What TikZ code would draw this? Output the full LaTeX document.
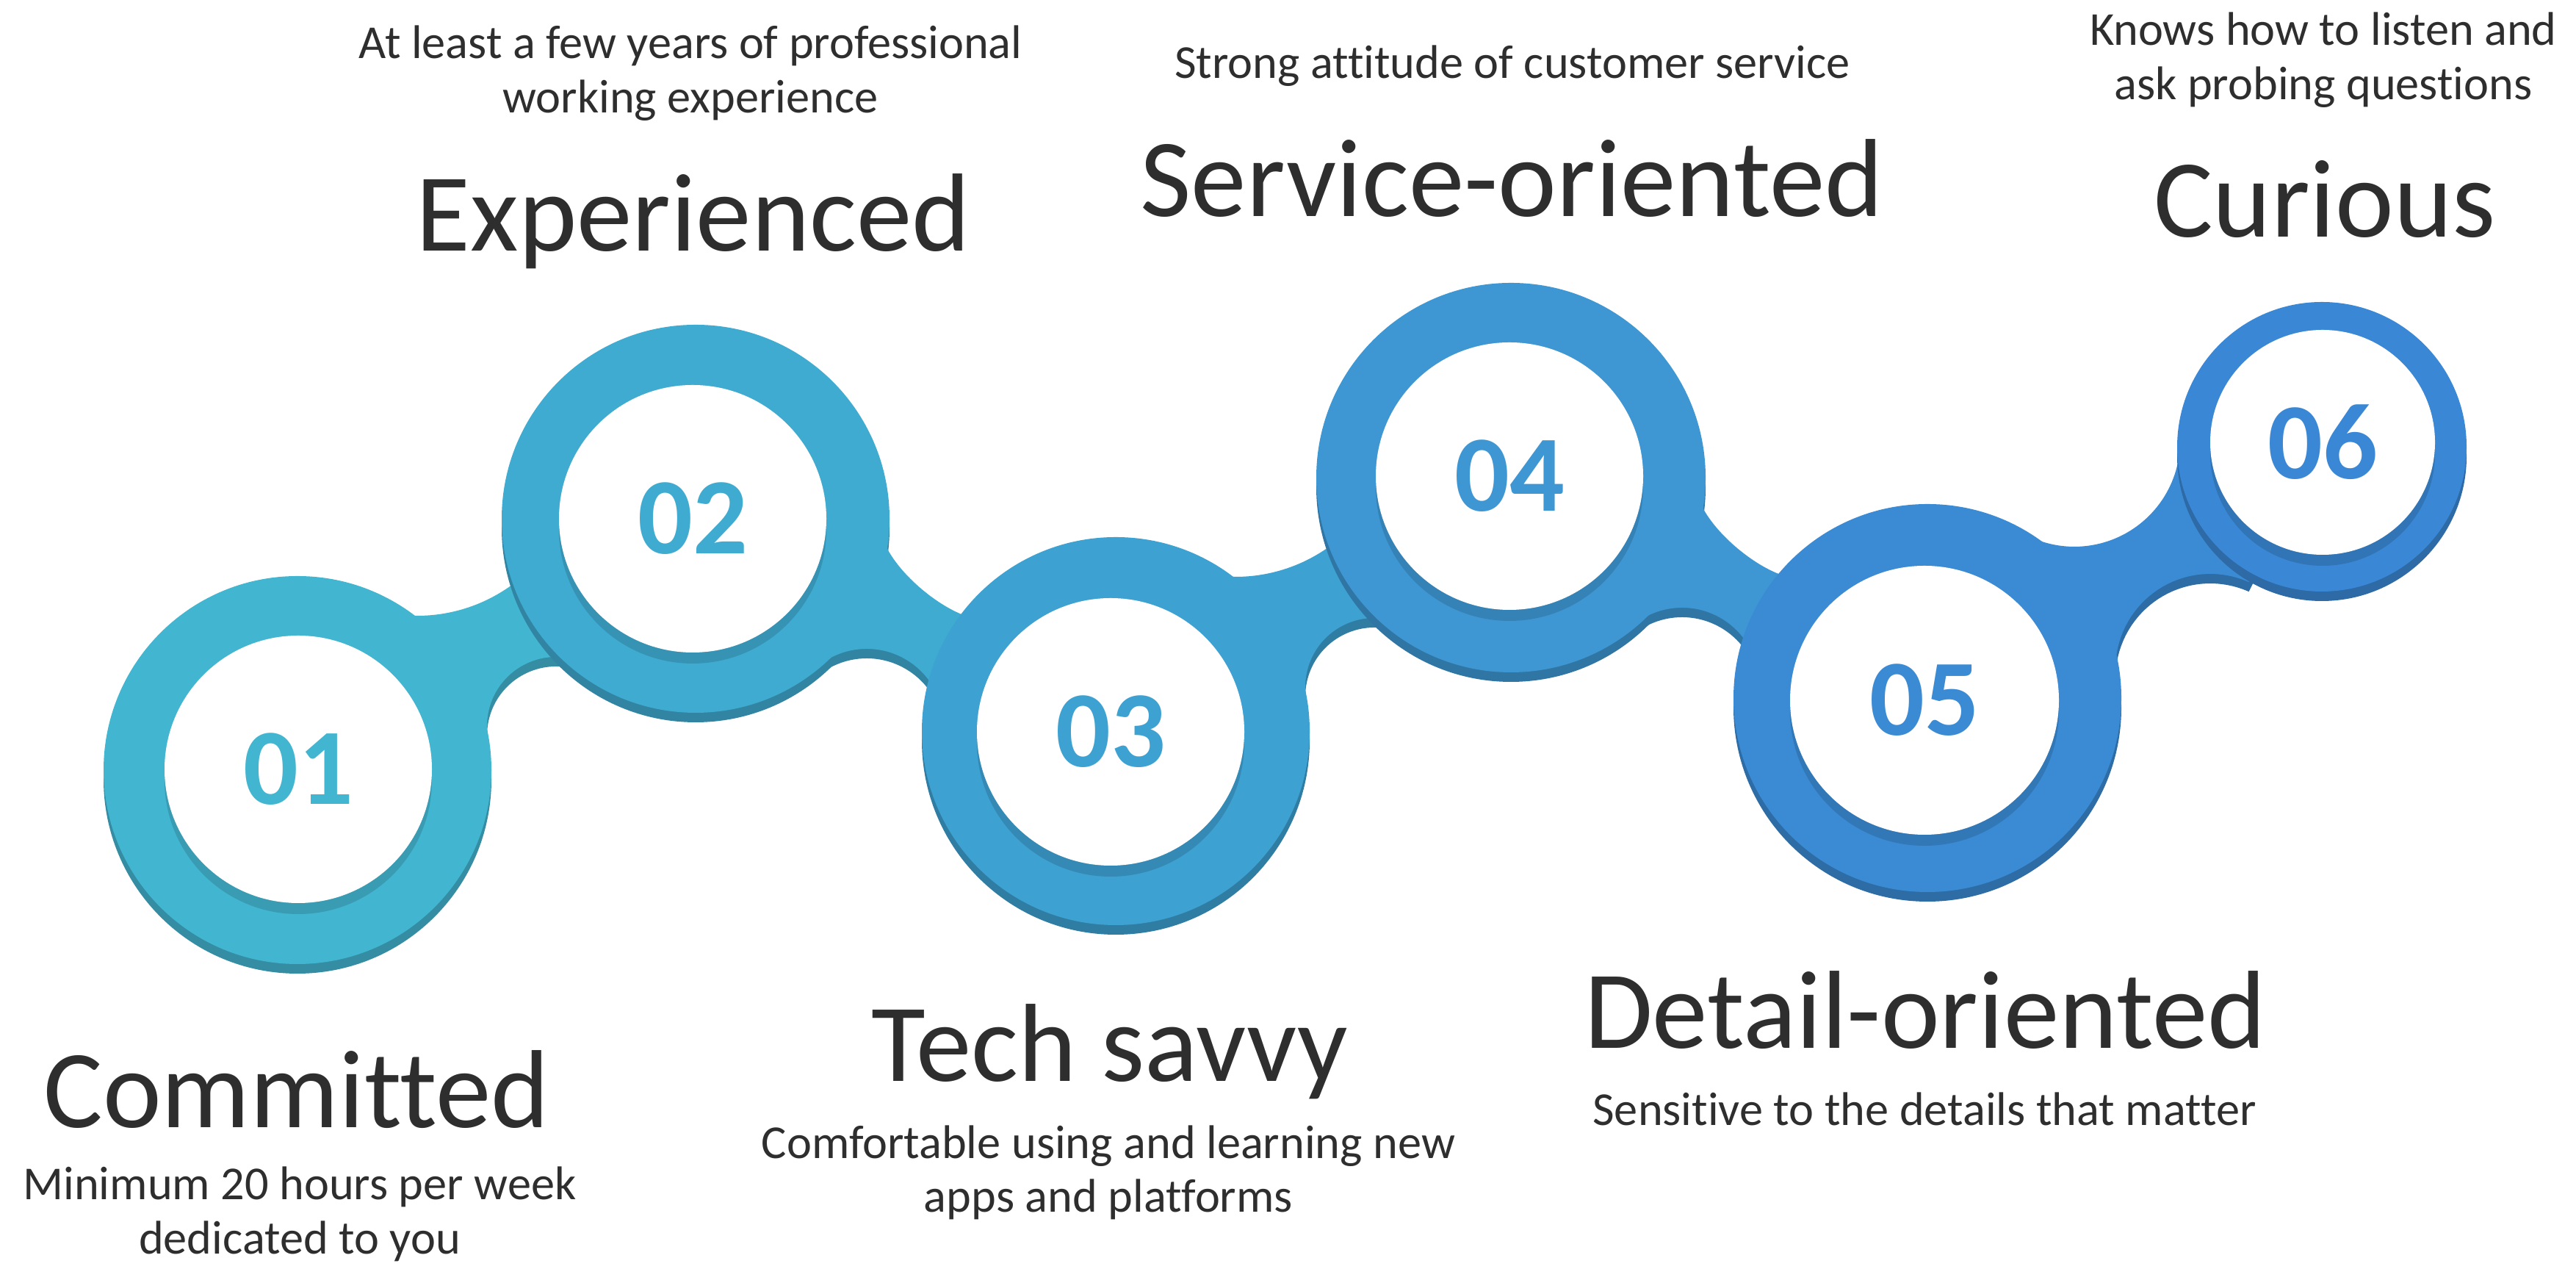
\documentclass[tikz,border=0pt]{standalone}
\usepackage{fontspec}
\setmainfont{Carlito}[Ligatures=NoCommon]
\usetikzlibrary{calc}

\definecolor{ink}{HTML}{2E2E2E}
\definecolor{ringA}{HTML}{42B5D0}
\definecolor{ringB}{HTML}{3FABD1}
\definecolor{ringC}{HTML}{3DA1D2}
\definecolor{ringD}{HTML}{3E97D3}
\definecolor{ringE}{HTML}{3A8AD4}
\definecolor{ringF}{HTML}{3A88D5}

\tikzset{
  title/.style={anchor=base, inner sep=0pt, text=ink, font=\fontsize{43}{50}\selectfont},
  caption/.style={anchor=base, inner sep=0pt, text=ink, font=\fontsize{18.3}{21}\selectfont},
  digit/.style={inner sep=0pt, font=\bfseries\fontsize{42}{42}\selectfont},
}

% dark copy of a ring, shifted down
\newcommand\ringshadow[3]{\fill[#3!78!black] ($(#1)+(0,-0.13)$) circle (#2);}
% ring face: outer disc, inner drop shadow, white centre
\newcommand\ringface[5]{%
  \fill[#5] (#1) circle (#2);
  \fill[#5!86!black] ($(#3)+(0,-0.15)$) circle (#4);
  \fill[white] (#3) circle (#4);
}
% neck rising to the upper right
\newcommand\upneck[3]{%
  \fill[#3!78!black, shift={($(#1)+(0,-0.13)$)}]
    (0,0) -- (1.439,2.108) arc[start angle=-95, end angle=-50, radius=2.19]
    -- (#2) -- (3.8415,1.4833) arc[start angle=70, end angle=188, radius=0.94] -- cycle;
  \fill[#3, shift={(#1)}]
    (0,0) -- (1.439,2.108) arc[start angle=-95, end angle=-50, radius=2.19]
    -- (#2) -- (3.8415,1.4833) arc[start angle=70, end angle=188, radius=0.94] -- cycle;
}
% neck falling to the lower right
\newcommand\downneck[3]{%
  \fill[#3!78!black, shift={($(#1)+(0,-0.13)$)}]
    (0,0) -- (2.56,-0.30) .. controls (2.72,-0.72) and (3.30,-1.21) .. (3.73,-1.34)
    -- (#2) -- (3.239,-2.295) arc[start angle=30, end angle=135, radius=1.05] -- cycle;
  \fill[#3, shift={(#1)}]
    (0,0) -- (2.56,-0.30) .. controls (2.72,-0.72) and (3.30,-1.21) .. (3.73,-1.34)
    -- (#2) -- (3.239,-2.295) arc[start angle=30, end angle=135, radius=1.05] -- cycle;
}
% neck into the smaller last ring
\newcommand\lastneck[3]{%
  \fill[#3!78!black, shift={($(#1)+(0,-0.13)$)}]
    (0,0) -- (1.461,2.165) arc[start angle=-112, end angle=0, radius=1.44]
    -- (#2) -- (4.375,1.578) arc[start angle=66, end angle=176, radius=1.29] -- cycle;
  \fill[#3, shift={(#1)}]
    (0,0) -- (1.461,2.165) arc[start angle=-112, end angle=0, radius=1.44]
    -- (#2) -- (4.375,1.578) arc[start angle=66, end angle=176, radius=1.29] -- cycle;
}

\begin{document}
\begin{tikzpicture}
\useasboundingbox (0,0) rectangle (35.07,17.27);

% ring centres (outer) and white-disc centres (inner)
\coordinate (o1) at (4.05,6.79);   \coordinate (i1) at (4.06,6.80);
\coordinate (o2) at (9.47,10.21);  \coordinate (i2) at (9.43,10.21);
\coordinate (o3) at (15.19,7.32);  \coordinate (i3) at (15.12,7.31);
\coordinate (o4) at (20.57,10.77); \coordinate (i4) at (20.55,10.79);
\coordinate (o5) at (26.24,7.77);  \coordinate (i5) at (26.20,7.74);
\coordinate (o6) at (31.61,11.19); \coordinate (i6) at (31.62,11.25);

% ring 01
\ringshadow{o1}{2.64}{ringA}
\upneck{o1}{o2}{ringA}
\ringface{o1}{2.64}{i1}{1.82}{ringA}
\node[digit, text=ringA] (n1) at (i1) {01};

% ring 02
\ringshadow{o2}{2.64}{ringB}
\downneck{o2}{o3}{ringB}
\ringface{o2}{2.64}{i2}{1.82}{ringB}
\node[digit, text=ringB] (n2) at (i2) {02};

% ring 03
\ringshadow{o3}{2.64}{ringC}
\upneck{o3}{o4}{ringC}
\ringface{o3}{2.64}{i3}{1.82}{ringC}
\node[digit, text=ringC] (n3) at (i3) {03};

% ring 04
\ringshadow{o4}{2.65}{ringD}
\downneck{o4}{o5}{ringD}
\ringface{o4}{2.65}{i4}{1.82}{ringD}
\node[digit, text=ringD] (n4) at (i4) {04};

% ring 05
\ringshadow{o5}{2.64}{ringE}
\lastneck{o5}{o6}{ringE}
\ringface{o5}{2.64}{i5}{1.83}{ringE}
\node[digit, text=ringE] (n5) at (i5) {05};

% ring 06
\ringshadow{o6}{1.97}{ringF}
\ringface{o6}{1.97}{i6}{1.53}{ringF}
\node[digit, text=ringF] (n6) at (i6) {06};

% titles
\node[title] (t1) at (4.04,1.92)   {Committed};
\node[title] (t2) at (9.44,13.85)  {Experienced};
\node[title] (t3) at (15.11,2.55)  {Tech savvy};
\node[title] (t4) at (20.58,14.32) {Service-oriented};
\node[title] (t5) at (26.21,3.00)  {Detail-oriented};
\node[title] (t6) at (31.65,14.04) {Curious};

% descriptions
\node[caption] (d1a) at (4.08,0.94)   {Minimum 20 hours per week};
\node[caption] (d1b) at (4.08,0.20)   {dedicated to you};
\node[caption] (d2a) at (9.40,16.47)  {At least a few years of professional};
\node[caption] (d2b) at (9.40,15.73)  {working experience};
\node[caption] (d3a) at (15.09,1.50)  {Comfortable using and learning new};
\node[caption] (d3b) at (15.09,0.77)  {apps and platforms};
\node[caption] (d4)  at (20.59,16.20) {Strong attitude of customer service};
\node[caption] (d5)  at (26.20,1.95)  {Sensitive to the details that matter};
\node[caption] (d6a) at (31.63,16.65) {Knows how to listen and};
\node[caption] (d6b) at (31.63,15.91) {ask probing questions};
\end{tikzpicture}
\end{document}
